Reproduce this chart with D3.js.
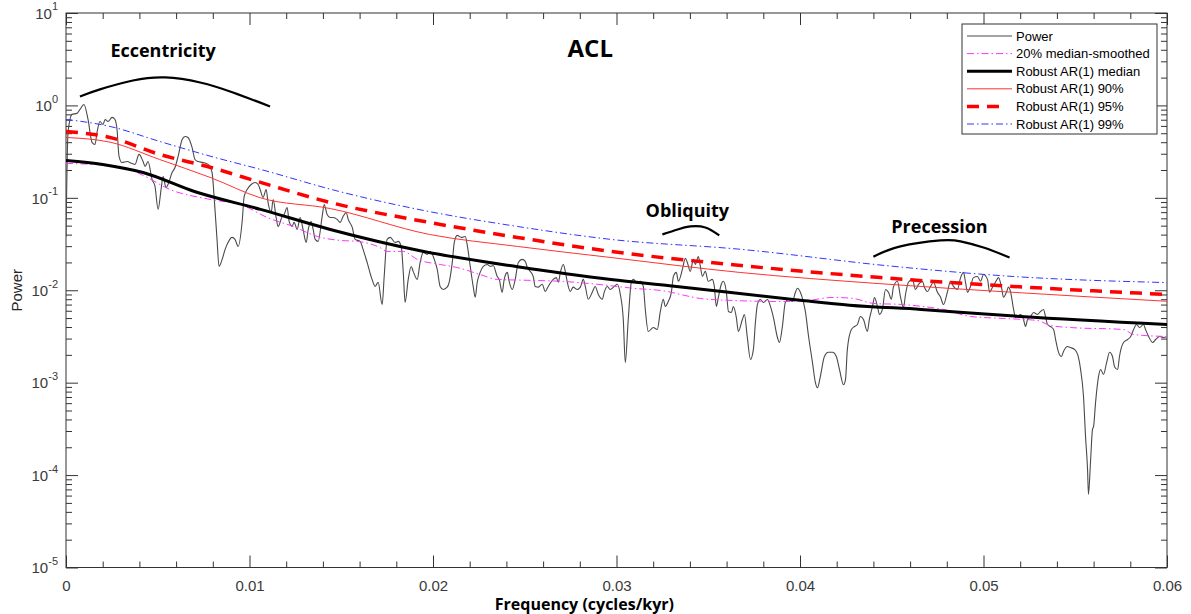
<!DOCTYPE html>
<html>
<head>
<meta charset="utf-8">
<script src="https://cdn.jsdelivr.net/npm/d3@7"></script>
<style>
  body { margin: 0; background: #fff; }
  svg { display: block; font-family: "Liberation Sans", Arial, sans-serif; }
  .note { font-family: "Open Sans", sans-serif; font-weight: 700; fill: #000; }
</style>
</head>
<body>
<svg id="chart" width="1191" height="614"></svg>
<script>
// frequency (cycles/kyr), power
const power = [
  [0,0.038],[0.00011,0.51],[0.00033,0.80],[0.0006,0.82],[0.00076,0.905],[0.00098,1.025],[0.0012,0.705],[0.00142,0.398],
  [0.00158,0.378],[0.00169,0.51],[0.00185,0.67],[0.00202,0.623],[0.00213,0.705],[0.00229,0.67],[0.00251,0.742],[0.00267,0.705],
  [0.00278,0.55],[0.00289,0.281],[0.00305,0.241],[0.00333,0.247],[0.0036,0.235],[0.00376,0.23],[0.00398,0.295],[0.0042,0.247],
  [0.00431,0.219],[0.00447,0.247],[0.00469,0.158],[0.00485,0.133],[0.00502,0.0749],[0.00518,0.123],[0.00529,0.17],[0.00545,0.129],
  [0.00556,0.1395],[0.00578,0.188],[0.00594,0.213],[0.00611,0.281],[0.00633,0.429],[0.00649,0.461],[0.00665,0.45],[0.00687,0.351],
  [0.00703,0.26],[0.0072,0.247],[0.00747,0.241],[0.00774,0.23],[0.00796,0.188],[0.00807,0.1037],[0.00823,0.0355],[0.00834,0.0181],
  [0.00851,0.0216],[0.00867,0.0277],[0.00883,0.0329],[0.00905,0.0373],[0.00921,0.0355],[0.00938,0.0298],[0.0096,0.0555],[0.00971,0.1037],
  [0.00987,0.123],[0.01009,0.1395],[0.01031,0.1466],[0.01047,0.1395],[0.01058,0.123],[0.01074,0.101],[0.01091,0.123],[0.01101,0.0892],
  [0.01118,0.0695],[0.01129,0.0961],[0.01145,0.0613],[0.01156,0.049],[0.01178,0.0629],[0.01189,0.0661],[0.01205,0.0787],[0.01216,0.0555],
  [0.01232,0.049],[0.01243,0.0542],[0.0126,0.0455],[0.01276,0.0613],[0.01292,0.0455],[0.01309,0.0329],[0.0132,0.0455],[0.01336,0.0555],
  [0.01347,0.0455],[0.01358,0.0355],[0.01374,0.0338],[0.01396,0.0629],[0.01407,0.0848],[0.01423,0.0661],[0.0144,0.0613],[0.01456,0.0613],
  [0.01478,0.0584],[0.01494,0.0542],[0.0151,0.0629],[0.01527,0.0695],[0.01538,0.0584],[0.0156,0.0478],[0.01576,0.0355],[0.01603,0.0338],
  [0.01619,0.0277],[0.01641,0.02],[0.01668,0.0131],[0.01685,0.011],[0.01701,0.0122],[0.01723,0.0070],[0.01734,0.0141],[0.0175,0.0355],
  [0.01767,0.0373],[0.01794,0.0329],[0.0181,0.0338],[0.01827,0.0298],[0.01838,0.0156],[0.01848,0.0074],[0.01865,0.0131],[0.01881,0.0181],
  [0.01892,0.016],[0.01914,0.0131],[0.0193,0.02],[0.01947,0.0257],[0.01968,0.0244],[0.01985,0.0263],[0.02007,0.0216],[0.02023,0.0168],
  [0.02039,0.011],[0.02056,0.0102],[0.02077,0.0108],[0.02088,0.0122],[0.02105,0.02],[0.02116,0.0329],[0.02132,0.0392],[0.02154,0.0373],
  [0.02176,0.0382],[0.02186,0.0313],[0.02203,0.0181],[0.02219,0.011],[0.0223,0.0084],[0.02241,0.0122],[0.02257,0.0156],[0.02274,0.0181],
  [0.02296,0.019],[0.02312,0.0181],[0.02328,0.0185],[0.0235,0.0141],[0.02361,0.0131],[0.02377,0.0095],[0.02388,0.0131],[0.02405,0.0156],
  [0.02415,0.0125],[0.02432,0.0102],[0.02448,0.0131],[0.02465,0.02],[0.02486,0.0216],[0.02503,0.0205],[0.02514,0.0176],[0.0253,0.016],
  [0.02546,0.0141],[0.02557,0.011],[0.02574,0.0108],[0.02595,0.0116],[0.02612,0.0097],[0.02628,0.011],[0.02655,0.0131],[0.02672,0.0137],
  [0.02683,0.0122],[0.02694,0.0156],[0.0271,0.019],[0.02721,0.016],[0.02732,0.0122],[0.02748,0.0097],[0.02764,0.0108],[0.02786,0.0102],
  [0.02803,0.0108],[0.02819,0.0131],[0.0283,0.011],[0.02846,0.0080],[0.02868,0.0095],[0.02884,0.011],[0.02901,0.0090],[0.02923,0.0080],
  [0.02933,0.0095],[0.0295,0.011],[0.02966,0.0102],[0.02988,0.011],[0.03004,0.0116],[0.03021,0.0090],[0.03037,0.00483],[0.03048,0.00165],
  [0.03064,0.00483],[0.03081,0.0122],[0.03092,0.0131],[0.03113,0.0119],[0.0313,0.0125],[0.03146,0.011],[0.03157,0.0062],[0.03173,0.00358],
  [0.03201,0.00395],[0.03222,0.00376],[0.03239,0.0059],[0.03255,0.0080],[0.03266,0.00668],[0.03282,0.00756],[0.03299,0.0095],[0.0331,0.0141],
  [0.03326,0.0156],[0.03337,0.0125],[0.03359,0.0168],[0.03375,0.0221],[0.03386,0.02],[0.03402,0.016],[0.03419,0.0216],[0.0343,0.019],
  [0.03446,0.0232],[0.03457,0.0181],[0.03468,0.0141],[0.03484,0.016],[0.035,0.0125],[0.03522,0.0131],[0.03533,0.011],[0.03544,0.00668],
  [0.03555,0.00836],[0.03571,0.0116],[0.03582,0.0125],[0.03599,0.0095],[0.0361,0.0059],[0.03626,0.00575],[0.03637,0.00668],[0.03653,0.00508],
  [0.03664,0.00358],[0.03686,0.00483],[0.03697,0.00547],[0.03713,0.00308],[0.0373,0.00178],[0.03746,0.00229],[0.03757,0.00448],[0.03768,0.00702],
  [0.03784,0.00795],[0.03801,0.00738],[0.03822,0.00795],[0.03839,0.00668],[0.03855,0.00508],[0.03877,0.00308],[0.03888,0.00272],[0.03904,0.00405],
  [0.0392,0.00738],[0.03937,0.00795],[0.03959,0.00756],[0.03975,0.0095],[0.03986,0.0105],[0.04002,0.0095],[0.04019,0.00738],[0.0403,0.00575],
  [0.04046,0.00324],[0.04068,0.00165],[0.04084,0.0010],[0.04095,0.00088],[0.04111,0.00117],[0.04133,0.00192],[0.04155,0.00213],[0.04177,0.00213],
  [0.04198,0.00192],[0.04215,0.00139],[0.04237,0.00095],[0.04248,0.00108],[0.04258,0.00229],[0.0428,0.00376],[0.04297,0.00405],[0.04313,0.00426],
  [0.04329,0.0052],[0.04346,0.00483],[0.04367,0.00358],[0.04378,0.00483],[0.04395,0.00668],[0.04406,0.00836],[0.04422,0.00668],[0.04433,0.00547],
  [0.04449,0.0062],[0.04466,0.0102],[0.04482,0.0095],[0.04498,0.0080],[0.04509,0.0108],[0.04531,0.0125],[0.04547,0.0086],[0.04564,0.0065],
  [0.04575,0.0090],[0.04591,0.0122],[0.04613,0.0131],[0.04629,0.0102],[0.04646,0.0116],[0.04667,0.0125],[0.04678,0.0108],[0.04695,0.0097],
  [0.04711,0.011],[0.04727,0.0122],[0.04749,0.0095],[0.04766,0.0084],[0.04782,0.0070],[0.04804,0.0097],[0.0482,0.0125],[0.04836,0.011],
  [0.04858,0.0102],[0.04875,0.0137],[0.04891,0.0156],[0.04902,0.0122],[0.04913,0.0095],[0.04929,0.011],[0.04945,0.0137],[0.04967,0.0141],
  [0.04984,0.0125],[0.05,0.0148],[0.05022,0.0131],[0.05033,0.0095],[0.05049,0.0108],[0.05065,0.0122],[0.05082,0.0137],[0.05098,0.0108],
  [0.05109,0.0084],[0.05125,0.0095],[0.05136,0.0108],[0.05147,0.0097],[0.05164,0.0062],[0.05174,0.00508],[0.05185,0.0052],[0.05202,0.00547],
  [0.05218,0.00483],[0.05229,0.00405],[0.0524,0.00483],[0.05256,0.0052],[0.05273,0.00575],[0.05294,0.00547],[0.05311,0.0059],[0.05327,0.0062],
  [0.05338,0.0052],[0.05349,0.00426],[0.05365,0.00405],[0.05382,0.00376],[0.05393,0.00293],[0.05409,0.00213],[0.05425,0.00192],[0.05436,0.00218],
  [0.05458,0.00246],[0.05474,0.0024],[0.05496,0.00229],[0.05513,0.00202],[0.05529,0.00139],[0.05545,0.00071],[0.05556,0.000262],[0.05567,0.000115],
  [0.05572,0.0000617],[0.05583,0.000137],[0.05594,0.000312],[0.056,0.000336],[0.05611,0.00062],[0.05627,0.00117],[0.05638,0.00139],[0.05654,0.00123],
  [0.05671,0.00165],[0.05687,0.00213],[0.05703,0.00192],[0.05714,0.00149],[0.05731,0.00139],[0.05741,0.00192],[0.05763,0.00272],[0.05785,0.00293],
  [0.05802,0.00316],[0.05818,0.00376],[0.05834,0.00426],[0.05851,0.00395],[0.05872,0.00426],[0.05883,0.00376],[0.059,0.00316],[0.05922,0.00272],
  [0.05938,0.00293],[0.0596,0.00316],[0.05981,0.00308],[0.06,0.00316]
];

const smoothed = [
  [0,0.236],[0.00147,0.23],[0.00294,0.219],[0.0042,0.175],[0.00567,0.123],[0.00785,0.0961],[0.00965,0.0827],[0.01096,0.0613],
  [0.01238,0.049],[0.01369,0.0382],[0.01494,0.0346],[0.01587,0.0338],[0.01712,0.0289],[0.0175,0.0263],[0.01838,0.0263],[0.01914,0.0216],
  [0.02039,0.019],[0.02132,0.0176],[0.02257,0.0148],[0.0235,0.0131],[0.0253,0.0128],[0.0271,0.01246],[0.02895,0.0116],[0.03092,0.0105],
  [0.03277,0.0097],[0.03348,0.00901],[0.03457,0.00815],[0.03637,0.00775],[0.0391,0.00756],[0.0404,0.00775],[0.04182,0.00836],[0.04291,0.00815],
  [0.044,0.0072],[0.04564,0.0070],[0.04711,0.00651],[0.04782,0.0062],[0.04929,0.0052],[0.05109,0.00495],[0.05294,0.00471],[0.05365,0.00415],
  [0.05474,0.00395],[0.05763,0.00376],[0.05818,0.00332],[0.06,0.00316]
];

const arMedian = [
  [0,0.254],[0.002,0.23],[0.0042,0.188],[0.007,0.117],[0.0106,0.075],[0.0144,0.0455],[0.0195,0.0263],[0.0246,0.018],
  [0.0297,0.0131],[0.0329,0.0112],[0.04,0.0078],[0.0427,0.0069],[0.0466,0.0062],[0.052,0.0052],[0.06,0.00426]
];
const ar90 = [
  [0,0.45],[0.0024,0.40],[0.0051,0.26],[0.0079,0.165],[0.0106,0.10],[0.0144,0.0766],[0.0198,0.0402],[0.0246,0.0298],
  [0.0297,0.0226],[0.0367,0.0156],[0.0443,0.0118],[0.0516,0.0095],[0.06,0.0076]
];
const ar95 = [
  [0,0.523],[0.0024,0.45],[0.0051,0.295],[0.0079,0.213],[0.0106,0.147],[0.0144,0.089],[0.0198,0.0542],[0.0246,0.0373],
  [0.0297,0.0263],[0.0368,0.0185],[0.0444,0.0137],[0.0516,0.011],[0.06,0.009]
];
const ar99 = [
  [0,0.705],[0.0024,0.592],[0.0051,0.408],[0.0079,0.281],[0.0106,0.203],[0.0149,0.117],[0.0198,0.071],[0.0246,0.049],
  [0.0297,0.0355],[0.0368,0.0277],[0.0449,0.0183],[0.0516,0.0141],[0.06,0.0121]
];

const xMajor = [0, 0.01, 0.02, 0.03, 0.04, 0.05, 0.06];
const xLabels = ["0", "0.01", "0.02", "0.03", "0.04", "0.05", "0.06"];
const yExponents = [-5, -4, -3, -2, -1, 0, 1];

// orbital band annotations: label position and arc, in data units
const bands = [
  { name: "Eccentricity", at: [0.00529, 3.31],
    arc: [[0.00076,1.25],[0.00185,1.49],[0.00365,1.86],[0.0054,2.01],[0.00731,1.77],[0.0091,1.38],[0.01112,0.975]] },
  { name: "Obliquity", at: [0.03386, 0.0614],
    arc: [[0.0325,0.0402],[0.03333,0.0455],[0.03402,0.049],[0.03484,0.0478],[0.0356,0.0392]] },
  { name: "Precession", at: [0.0476, 0.0412],
    arc: [[0.044,0.0231],[0.04547,0.0298],[0.04766,0.0346],[0.04875,0.0338],[0.05,0.029],[0.05142,0.0226]] }
];

const series = [
  { label: "Power", data: power, color: "#4a4a4a", width: 1.1, dash: null },
  { label: "20% median-smoothed", data: smoothed, color: "#ff33ff", width: 1, dash: "7,3,1.5,3" },
  { label: "Robust AR(1) median", data: arMedian, color: "#000", width: 3, dash: null },
  { label: "Robust AR(1) 90%", data: ar90, color: "#ff3333", width: 1, dash: null },
  { label: "Robust AR(1) 95%", data: ar95, color: "#ff0000", width: 3.5, dash: "12,8" },
  { label: "Robust AR(1) 99%", data: ar99, color: "#3333ff", width: 1, dash: "7,3,1.5,3" }
];

const W = 1191, H = 614;
const margin = { top: 13, right: 24, bottom: 46.5, left: 66 };
const svg = d3.select("#chart");

const x = d3.scaleLinear().domain([0, 0.06]).range([margin.left, W - margin.right]);
const y = d3.scaleLog().domain([1e-5, 10]).range([H - margin.bottom, margin.top]);

svg.append("defs").append("clipPath").attr("id", "plot-clip")
  .append("rect")
  .attr("x", x.range()[0]).attr("y", y.range()[1])
  .attr("width", x.range()[1] - x.range()[0])
  .attr("height", y.range()[0] - y.range()[1]);

// ticks (inward, all four sides)
const axisColor = "#333";
const xMinor = d3.range(0, 0.0601, 0.002).filter(v => Math.abs(v * 100 - Math.round(v * 100)) > 1e-6);
const yMinor = [];
yExponents.slice(0, -1).forEach(e => { for (let k = 2; k <= 9; k++) yMinor.push(k * Math.pow(10, e)); });
const yMajor = yExponents.map(e => Math.pow(10, e));

function styleAxis(g) {
  g.select(".domain").remove();
  g.selectAll("line").attr("stroke", axisColor);
}

svg.append("g").attr("transform", `translate(0,${y.range()[0]})`)
  .call(d3.axisBottom(x).tickValues(xMajor).tickSize(-12).tickPadding(12.5)
    .tickFormat((d, i) => xLabels[i]))
  .call(styleAxis)
  .call(g => g.selectAll("text").attr("fill", "#3a3a3a").attr("font-size", 15)
    .attr("font-family", "Liberation Sans, Arial, sans-serif"));
svg.append("g").attr("transform", `translate(0,${y.range()[0]})`)
  .call(d3.axisBottom(x).tickValues(xMinor).tickSize(-6).tickFormat(""))
  .call(styleAxis);
svg.append("g").attr("transform", `translate(0,${y.range()[1]})`)
  .call(d3.axisTop(x).tickValues(xMajor).tickSize(-12).tickFormat(""))
  .call(styleAxis);
svg.append("g").attr("transform", `translate(0,${y.range()[1]})`)
  .call(d3.axisTop(x).tickValues(xMinor).tickSize(-6).tickFormat(""))
  .call(styleAxis);

[[x.range()[0], d3.axisLeft], [x.range()[1], d3.axisRight]].forEach(([pos, ax]) => {
  svg.append("g").attr("transform", `translate(${pos},0)`)
    .call(ax(y).tickValues(yMajor).tickSize(-12).tickFormat(""))
    .call(styleAxis);
  svg.append("g").attr("transform", `translate(${pos},0)`)
    .call(ax(y).tickValues(yMinor).tickSize(-6).tickFormat(""))
    .call(styleAxis);
});

// y tick labels as 10^n
const yLab = svg.append("g").attr("fill", "#3a3a3a").attr("font-size", 15);
yExponents.forEach(e => {
  const t = yLab.append("text")
    .attr("x", x.range()[0] - 8).attr("y", y(Math.pow(10, e)))
    .attr("dy", "0.38em").attr("text-anchor", "end");
  t.append("tspan").text("10");
  t.append("tspan").attr("font-size", 11).attr("dy", "-0.75em").text(e);
});

// plot frame
svg.append("rect")
  .attr("x", x.range()[0]).attr("y", y.range()[1])
  .attr("width", x.range()[1] - x.range()[0])
  .attr("height", y.range()[0] - y.range()[1])
  .attr("fill", "none").attr("stroke", axisColor).attr("stroke-width", 1);

// series
const line = d3.line().x(d => x(d[0])).y(d => y(d[1])).curve(d3.curveMonotoneX);
const plot = svg.append("g").attr("clip-path", "url(#plot-clip)");
series.forEach(s => {
  plot.append("path")
    .datum(s.data)
    .attr("fill", "none")
    .attr("stroke", s.color)
    .attr("stroke-width", s.width)
    .attr("stroke-dasharray", s.dash)
    .attr("stroke-linejoin", "round")
    .attr("d", line);
});

// orbital annotations
const arcLine = d3.line().x(d => x(d[0])).y(d => y(d[1])).curve(d3.curveNatural);
bands.forEach(b => {
  svg.append("path").datum(b.arc)
    .attr("fill", "none").attr("stroke", "#000").attr("stroke-width", 2.2)
    .attr("d", arcLine);
  svg.append("text").attr("class", "note")
    .attr("x", x(b.at[0])).attr("y", y(b.at[1]))
    .attr("text-anchor", "middle").attr("font-size", 18)
    .text(b.name);
});

// title
svg.append("text").attr("class", "note")
  .attr("x", x(0.02857)).attr("y", y(3.31))
  .attr("text-anchor", "middle").attr("font-size", 24)
  .text("ACL");

// axis labels
svg.append("text").attr("class", "note")
  .attr("x", x(0.02825)).attr("y", 610)
  .attr("text-anchor", "middle").attr("font-size", 16)
  .text("Frequency (cycles/kyr)");
svg.append("text")
  .attr("transform", `translate(22,${(y.range()[0] + y.range()[1]) / 2}) rotate(-90)`)
  .attr("text-anchor", "middle").attr("font-size", 15).attr("fill", "#262626")
  .text("Power");

// legend
const lg = svg.append("g").attr("transform", "translate(962,24)");
lg.append("rect").attr("width", 195).attr("height", 110)
  .attr("fill", "#fff").attr("stroke", axisColor).attr("stroke-width", 1);
series.forEach((s, i) => {
  const yy = 12 + i * 17.6;
  lg.append("line")
    .attr("x1", 5).attr("x2", s.dash === "12,8" ? 42 : 50)
    .attr("y1", yy).attr("y2", yy)
    .attr("stroke", s.color).attr("stroke-width", s.width)
    .attr("stroke-dasharray", s.dash);
  lg.append("text").attr("x", 54).attr("y", yy).attr("dy", "0.35em")
    .attr("font-size", 13).attr("fill", "#000").text(s.label);
});
</script>
</body>
</html>
